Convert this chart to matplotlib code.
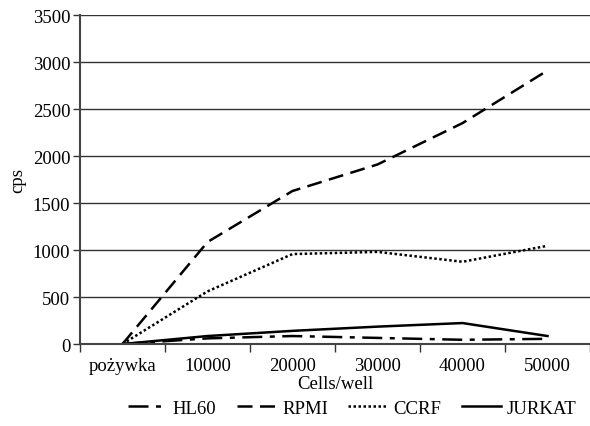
import numpy as np
import matplotlib
matplotlib.use("Agg")
import matplotlib.pyplot as plt

plt.rcParams['font.family'] = ['Liberation Serif', 'DejaVu Serif']

categories = ["pożywka", "10000", "20000", "30000", "40000", "50000"]
hl60 = [0, 60, 85, 65, 45, 55]
rpmi = [0, 1085, 1628, 1910, 2350, 2910]
ccrf = [0, 560, 957, 980, 875, 1045]
jurkat = [0, 85, 140, 185, 223, 85]

fs = 13.5

fig = plt.figure(figsize=(5.9, 4.27), dpi=100)
ax = fig.add_axes([0.1356, 0.192, 0.8644, 0.7705])

x = np.arange(len(categories))
lw = 1.8
ax.plot(x, hl60, color='black', lw=lw, dashes=(8, 3, 2, 3), label="HL60")
ax.plot(x, rpmi, color='black', lw=lw, dashes=(6, 3), label="RPMI")
ax.plot(x, ccrf, color='black', lw=lw, dashes=(1, 1), label="CCRF")
ax.plot(x, jurkat, color='black', lw=lw, label="JURKAT")

ax.set_xlim(-0.5, len(categories) - 0.5)
ax.set_ylim(0, 3500)
ax.set_yticks(np.arange(0, 3501, 500))
ax.yaxis.grid(True, color='#333333', lw=1.0)
ax.set_axisbelow(True)

# kategoriat ja tick-merkit rajoilla
ax.set_xticks(x)
ax.set_xticklabels(categories)
ax.set_xticks(np.arange(-0.5, len(categories), 1.0), minor=True)
ax.tick_params(axis='x', which='major', length=0, pad=9, labelsize=fs)
ax.tick_params(axis='x', which='minor', length=6, width=1, color='#333333')
ax.tick_params(axis='y', length=5, width=1, color='#333333', labelsize=fs, pad=2)

ax.spines['right'].set_color('none')
ax.spines['top'].set_color('none')
ax.spines['left'].set_color('#444444')
ax.spines['left'].set_linewidth(1.5)
ax.spines['bottom'].set_color('#444444')
ax.spines['bottom'].set_linewidth(1.5)

ax.set_xlabel("Cells/well", fontsize=fs, labelpad=1)
ax.set_ylabel("cps", fontsize=fs, labelpad=5)

fig.legend(loc='lower center', bbox_to_anchor=(0.597, -0.018), ncol=4, frameon=False,
           fontsize=fs, handlelength=2.1, columnspacing=1.1, handletextpad=0.3)

fig.savefig("out.png", dpi=100)
